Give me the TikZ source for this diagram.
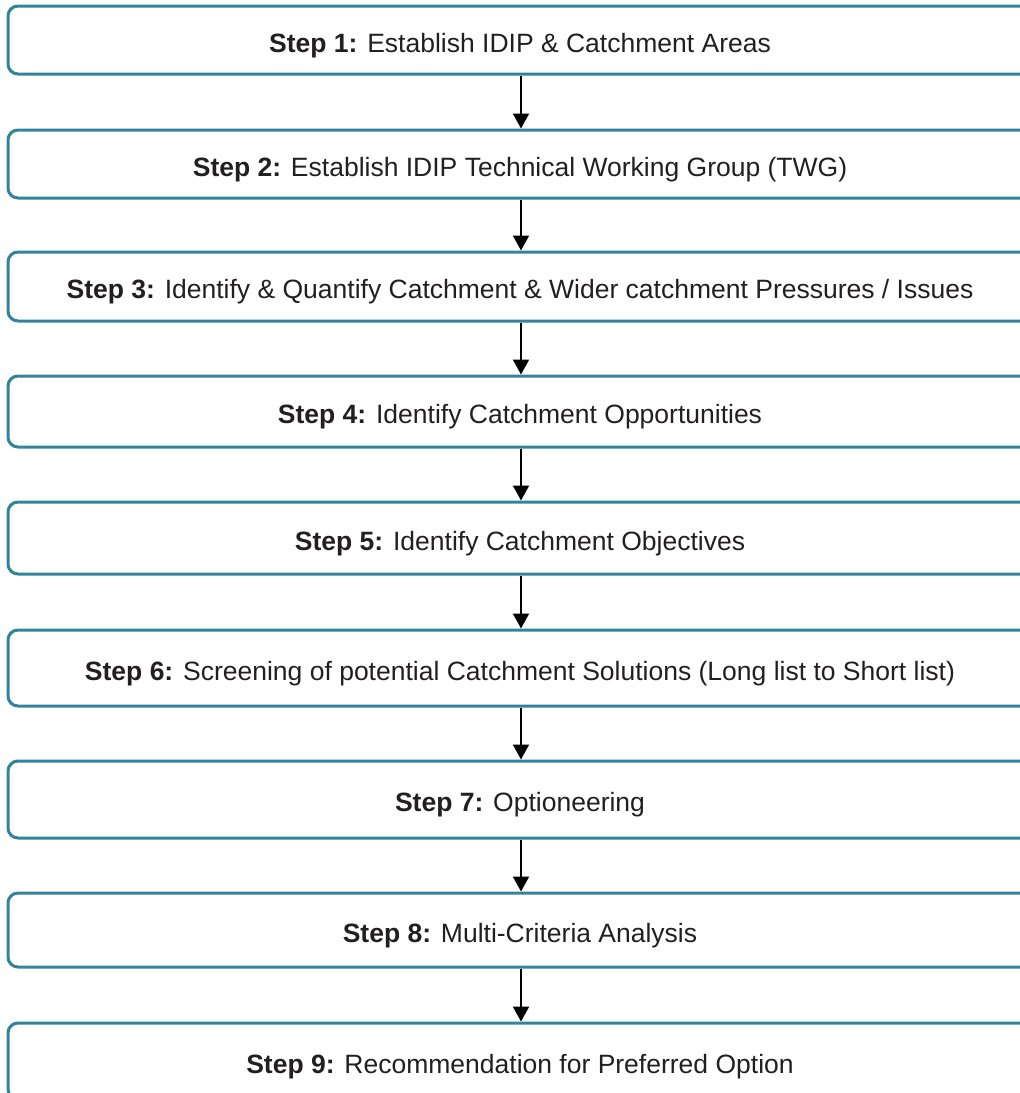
\documentclass[tikz,border=0pt]{standalone}
\usepackage{fontspec}
\setmainfont{Liberation Sans}
\usepackage{xcolor}
\usetikzlibrary{arrows.meta}
\definecolor{stepteal}{HTML}{31849B}
\definecolor{steptext}{HTML}{231F20}

\begin{document}
\begin{tikzpicture}[x=1pt,y=-1pt,>={Triangle[width=16pt,length=15pt]},
stepbox/.style={draw=stepteal,line width=3pt,rounded corners=10pt,minimum width=1024pt,text=steptext,font=\fontsize{26.5}{30}\selectfont,inner sep=0pt,text height=24pt,text depth=0pt}]
\useasboundingbox (0,0) rectangle (1020,1093);
\node[stepbox,minimum height=68pt](step1) at (520,40){\textbf{Step 1:} Establish IDIP \& Catchment Areas};
\node[stepbox,minimum height=68pt](step2) at (520,164){\textbf{Step 2:} Establish IDIP Technical Working Group (TWG)};
\node[stepbox,minimum height=69pt](step3) at (520,286.5){\textbf{Step 3:} Identify \& Quantify Catchment \& Wider catchment Pressures / Issues};
\node[stepbox,minimum height=71pt](step4) at (520,411.5){\textbf{Step 4:} Identify Catchment Opportunities};
\node[stepbox,minimum height=72pt](step5) at (520,538){\textbf{Step 5:} Identify Catchment Objectives};
\node[stepbox,minimum height=76pt](step6) at (520,668){\textbf{Step 6:} Screening of potential Catchment Solutions (Long list to Short list)};
\node[stepbox,minimum height=77pt](step7) at (520,799.5){\textbf{Step 7:} Optioneering};
\node[stepbox,minimum height=74pt](step8) at (520,930){\textbf{Step 8:} Multi-Criteria Analysis};
\node[stepbox,minimum height=76pt](step9) at (520,1061){\textbf{Step 9:} Recommendation for Preferred Option};
\foreach \a/\b in {1/2,2/3,3/4,4/5,5/6,6/7,7/8,8/9}
\draw[->,line width=2pt]([xshift=1pt]step\a.south)--([xshift=1pt]step\b.north);
\end{tikzpicture}
\end{document}
